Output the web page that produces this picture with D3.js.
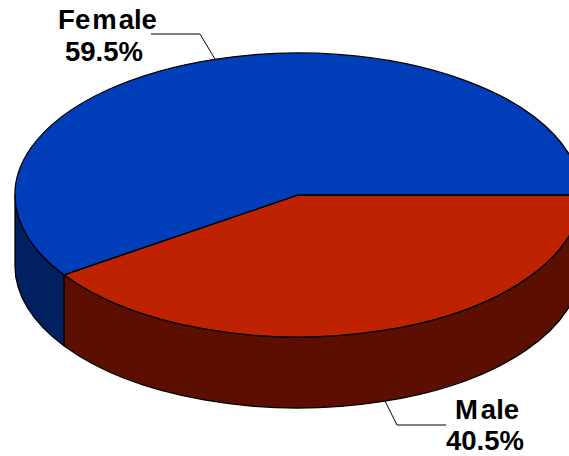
<!DOCTYPE html>
<html><head><meta charset="utf-8">
<script src="https://cdn.jsdelivr.net/npm/d3@7"></script>
<style>html,body{margin:0;padding:0;background:#fff;overflow:hidden}svg{display:block}
text{font-family:"Liberation Sans",Arial,sans-serif;font-weight:bold;font-size:27.5px;fill:#000;text-anchor:middle}</style>
</head><body><svg id="c" width="569" height="456"></svg>
<script>
const categories = ["Male", "Female"];
const shares = [40.5, 59.5];
const shareLabels = ["40.5%", "59.5%"];
const topColors = ["#BF2200", "#003DB9"];
const wallColors = ["#5C0F00", "#00205F"];

const svg = d3.select("#c");
const sx = d3.scaleLinear().domain([-1, 1]).range([15, 581]);
const sy = d3.scaleLinear().domain([-1, 1]).range([53, 337]);
const depth = 71;
const rx = (sx(1) - sx(-1)) / 2, ry = (sy(1) - sy(-1)) / 2;

const slices = d3.pie().sort(null).value(d => d)
  .startAngle(Math.PI / 2).endAngle(Math.PI * 2.5)(shares)
  .map((s, i) => ({ i, a0: s.startAngle - Math.PI / 2, a1: s.endAngle - Math.PI / 2 }));

const px = a => sx(Math.cos(a)), py = a => sy(Math.sin(a));
function ell(a0, a1, dy, sweep) {
  const large = Math.abs(a1 - a0) > Math.PI ? 1 : 0;
  return `A${rx},${ry} 0 ${large} ${sweep} ${px(a1)},${py(a1) + dy}`;
}
function topPath(s) {
  return `M${sx(0)},${sy(0)}L${px(s.a0)},${py(s.a0)}${ell(s.a0, s.a1, 0, 1)}Z`;
}
function wallPath(s) {
  const a0 = Math.max(s.a0, 0), a1 = Math.min(s.a1, Math.PI);
  if (a1 <= a0) return null;
  return `M${px(a0)},${py(a0)}${ell(a0, a1, 0, 1)}L${px(a1)},${py(a1) + depth}${ell(a1, a0, depth, 0)}Z`;
}
const walls = slices.map(s => ({ i: s.i, d: wallPath(s) })).filter(w => w.d);

svg.append("g").selectAll("path").data(walls).join("path")
  .attr("d", w => w.d).attr("fill", w => wallColors[w.i])
  .attr("stroke", "#000").attr("stroke-width", 1.3).attr("stroke-linejoin", "round");
svg.append("g").selectAll("path").data(slices).join("path")
  .attr("d", topPath).attr("fill", s => topColors[s.i])
  .attr("stroke", "#000").attr("stroke-width", 1.3).attr("stroke-linejoin", "round");

// leader lines
const line = d3.line();
const leaderPoints = [[[385, 401], [397, 425], [446, 425]], [[151, 34], [200, 34], [215, 59]]];
svg.append("g").selectAll("path").data(leaderPoints).join("path")
  .attr("d", line).attr("fill", "none").attr("stroke", "#000").attr("stroke-width", 1);

// labels: name line carries the reference's uneven letter gaps
const labelPos = [
  { x1: 487, y1: 418.5, x2: 485, y2: 450, dx: "0 3 0 0" },
  { x1: 107.5, y1: 28.5, x2: 104, y2: 61, dx: "0 0 2 2 0 0" }
];
categories.forEach((c, i) => {
  const p = labelPos[i];
  svg.append("text").attr("x", p.x1).attr("y", p.y1).attr("dx", p.dx).text(c);
  svg.append("text").attr("x", p.x2).attr("y", p.y2).text(shareLabels[i]);
});
</script></body></html>
